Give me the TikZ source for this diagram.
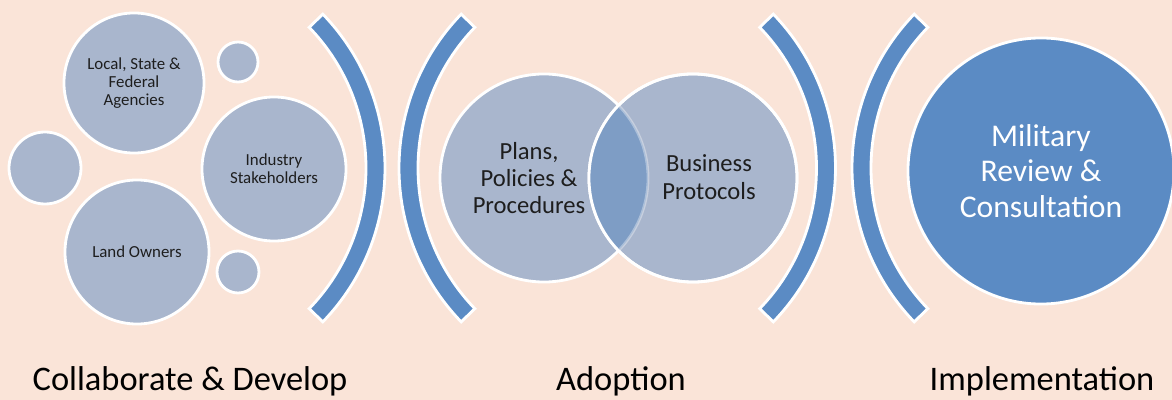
\documentclass[tikz,border=0pt]{standalone}
\usepackage{fontspec}
\setmainfont{Carlito}
\usetikzlibrary{calc}

\definecolor{peach}{RGB}{250,228,216}
\definecolor{bubblegray}{RGB}{169,182,205}
\definecolor{bracketblue}{RGB}{91,139,196}
\definecolor{overlapblue}{RGB}{126,157,197}
\definecolor{textgray}{RGB}{30,30,30}

\begin{document}
\begin{tikzpicture}[x=0.025cm, y=-0.025cm,
        bubble/.style={circle, draw=white, line width=2pt, fill=bubblegray, inner sep=0pt,
            align=center, text=textgray, font=\fontsize{12}{13}\selectfont},
        venn/.style={bubble, minimum size=5.2cm},
        venntext/.style={align=center, text=textgray, font=\fontsize{17.5}{19.5}\selectfont},
        bracket/.style={draw=white, line width=2pt, fill=bracketblue},
        caption/.style={anchor=base, text=black, font=\fontsize{24.5}{26}\selectfont}
    ]
        % Hintergrund
        \fill[peach] (0,0) rectangle (1172,400);
        \useasboundingbox (0,0) rectangle (1172,400);

        % Blasen links
        \node [bubble, minimum size=3.5cm] (agencies) at (134,83) {Local, State \&\\Federal\\Agencies};
        \node [bubble, minimum size=1.0cm] (smalltop) at (238,62) {};
        \node [bubble, minimum size=1.8cm] (smallleft) at (45,168) {};
        \node [bubble, minimum size=3.6cm] (industry) at (274,169) {Industry\\Stakeholders};
        \node [bubble, minimum size=3.6cm] (land) at (137,252) {Land Owners};
        \node [bubble, minimum size=1.05cm] (smallbot) at (238,272) {};

        % Klammern
        \coordinate (b1) at (163.5,168);
        \coordinate (b2) at (620.5,168);
        \coordinate (b3) at (614,168);
        \coordinate (b4) at (1073.5,168);
        \draw[bracket] ($(b1)+(-44:202.5)$) arc[start angle=-44, end angle=44, radius=202.5]
            -- ($(b1)+(44:221.5)$) arc[start angle=44, end angle=-44, radius=221.5] -- cycle;
        \draw[bracket] ($(b2)+(136:202.5)$) arc[start angle=136, end angle=224, radius=202.5]
            -- ($(b2)+(224:221.5)$) arc[start angle=224, end angle=136, radius=221.5] -- cycle;
        \draw[bracket] ($(b3)+(-44:202.5)$) arc[start angle=-44, end angle=44, radius=202.5]
            -- ($(b3)+(44:221.5)$) arc[start angle=44, end angle=-44, radius=221.5] -- cycle;
        \draw[bracket] ($(b4)+(136:202.5)$) arc[start angle=136, end angle=224, radius=202.5]
            -- ($(b4)+(224:221.5)$) arc[start angle=224, end angle=136, radius=221.5] -- cycle;

        % Venn
        \node [venn] (plans) at (544,178) {};
        \node [venn] (business) at (693,178) {};
        \begin{scope}
            \clip (plans.center) circle[radius=2.6cm];
            \fill[overlapblue] (business.center) circle[radius=2.6cm];
        \end{scope}
        \begin{scope}
            \clip (business.center) circle[radius=2.6cm];
            \draw[white, opacity=.35, line width=2pt] (plans.center) circle[radius=2.6cm];
        \end{scope}
        \draw[white, line width=2pt] (business.center) circle[radius=2.6cm];
        \node [venntext] (planstext) at (529,178) {Plans,\\Policies \&\\Procedures};
        \node [venntext] (businesstext) at (709,177) {Business\\Protocols};

        % rechts
        \node [bubble, fill=bracketblue, minimum size=6.65cm, text=white,
            font=\fontsize{22.5}{25}\selectfont] (military) at (1041,171) {Military\\Review \&\\Consultation};

        % Beschriftung
        \node [caption] (collab) at (190,390) {Collaborate \& Develop};
        \node [caption] (adoption) at (621,390) {Adoption};
        \node [caption] (implement) at (1042,390) {Implementation};
    \end{tikzpicture}
\end{document}
